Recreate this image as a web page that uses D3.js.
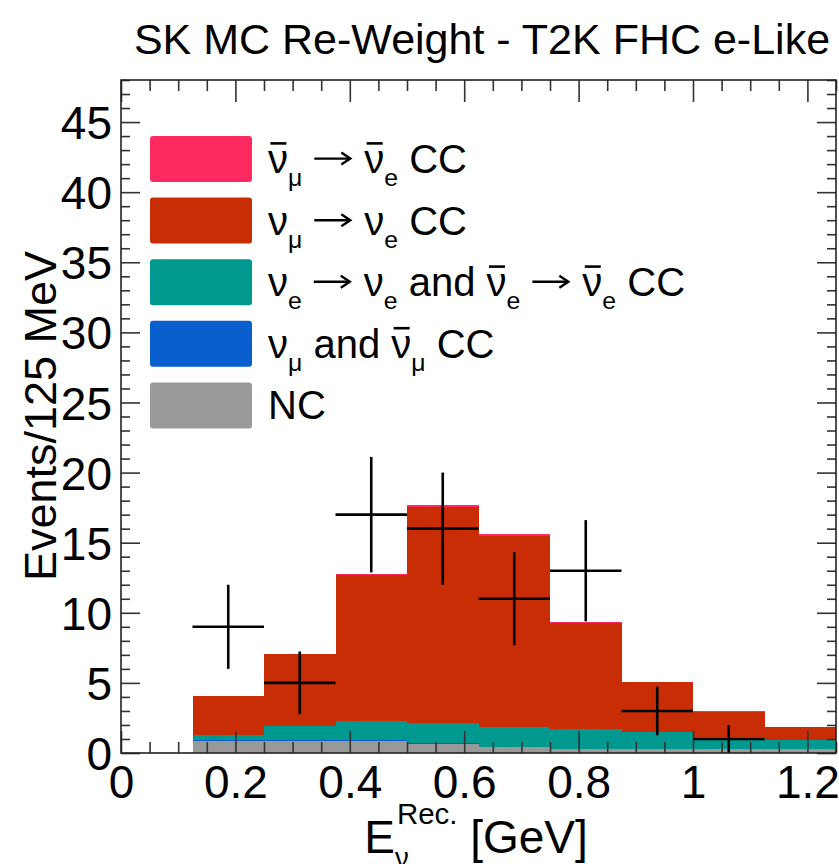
<!DOCTYPE html>
<html><head><meta charset="utf-8">
<script src="https://cdn.jsdelivr.net/npm/d3@7"></script>
<style>body{margin:0;background:#fff}svg{display:block}text{font-family:"Liberation Sans",Arial,Helvetica,sans-serif;fill:#000}</style>
</head><body><svg id="c" width="839" height="864"></svg>
<script>
// ---------- data ----------
const binLow = [0.125, 0.25, 0.375, 0.5, 0.625, 0.75, 0.875, 1.0, 1.125];
const binWidth = 0.125;
const ncVals          = [0.88, 0.86, 0.86, 0.65, 0.40, 0.30, 0.30, 0.28, 0.28];
const numuCCVals      = [0.08, 0.06, 0.05, 0.05, 0.03, 0.02, 0.02, 0.02, 0.02];
const nueCCVals       = [0.34, 0.98, 1.39, 1.46, 1.46, 1.36, 1.20, 0.85, 0.65];
const numuToNueVals   = [2.75, 5.13, 10.40, 15.40, 13.61, 7.62, 3.52, 1.78, 0.92];
const numubToNuebVals = [0.04, 0.06, 0.10, 0.12, 0.10, 0.07, 0.05, 0.03, 0.02];
const dataCounts = [9, 5, 17, 16, 11, 13, 3, 1, 0];
const dataErrors = [3.0, 2.24, 4.12, 4.0, 3.32, 3.61, 1.73, 1.0, 0];
const xTickLabels = ["0", "0.2", "0.4", "0.6", "0.8", "1", "1.2"];
const xTickValues = [0, 0.2, 0.4, 0.6, 0.8, 1.0, 1.2];
const yTickValues = [0, 5, 10, 15, 20, 25, 30, 35, 40, 45];
const seriesKeys = ["nc", "numuCC", "nueCC", "numuToNue", "numubToNueb"];
const seriesColors = {nc:"#999999", numuCC:"#0a5fcf", nueCC:"#00998f", numuToNue:"#c92d05", numubToNueb:"#ff2a60"};

// ---------- layout ----------
const svg = d3.select("#c");
const m = {l:121, r:836, t:80, b:753};
const x = d3.scaleLinear().domain([0, 1.25]).range([m.l, m.r]);
const y = d3.scaleLinear().domain([0, 48]).range([m.b, m.t]);
const FONT = '"Liberation Sans",Arial,Helvetica,sans-serif';

const rows = binLow.map((lo, i) => ({lo, nc:ncVals[i], numuCC:numuCCVals[i], nueCC:nueCCVals[i], numuToNue:numuToNueVals[i], numubToNueb:numubToNuebVals[i]}));
const stacked = d3.stack().keys(seriesKeys)(rows);

svg.append("clipPath").attr("id","pc").append("rect")
  .attr("x", m.l).attr("y", m.t).attr("width", m.r-m.l).attr("height", m.b-m.t);
const plot = svg.append("g").attr("clip-path","url(#pc)");

stacked.forEach(layer => {
  plot.append("g").selectAll("rect").data(layer).join("rect")
    .attr("x", d => x(d.data.lo))
    .attr("width", d => x(d.data.lo + binWidth) - x(d.data.lo))
    .attr("y", d => y(d[1]))
    .attr("height", d => Math.max(0, y(d[0]) - y(d[1])))
    .attr("fill", seriesColors[layer.key])
    .attr("shape-rendering","crispEdges");
});

// ---------- axes / ticks ----------
const tickCol = "#333";
function styleAxis(g){ g.select(".domain").remove(); g.selectAll("line").attr("stroke", tickCol).attr("stroke-width",1.6); g.selectAll("text").attr("font-family",FONT).attr("fill","#000"); }
const yMinor = d3.range(0, 49, 1).filter(v => v % 5 !== 0);
const xMinor = d3.range(0, 1.26, 0.05).map(v => +v.toFixed(2)).filter(v => Math.abs(v*5 - Math.round(v*5)) > 1e-6);

svg.append("g").attr("transform",`translate(${m.l},0)`).call(d3.axisLeft(y).tickValues(yTickValues).tickSizeInner(-19).tickSizeOuter(0).tickPadding(9).tickFormat(d3.format("d"))).call(styleAxis).selectAll("text").attr("font-size",46).attr("dy","0.36em");
svg.append("g").attr("transform",`translate(${m.l},0)`).call(d3.axisLeft(y).tickValues(yMinor).tickSizeInner(-9).tickSizeOuter(0).tickFormat("")).call(styleAxis);
svg.append("g").attr("transform",`translate(${m.r},0)`).call(d3.axisRight(y).tickValues(yTickValues).tickSizeInner(-19).tickSizeOuter(0).tickFormat("")).call(styleAxis);
svg.append("g").attr("transform",`translate(${m.r},0)`).call(d3.axisRight(y).tickValues(yMinor).tickSizeInner(-9).tickSizeOuter(0).tickFormat("")).call(styleAxis);
svg.append("g").attr("transform",`translate(0,${m.b})`).call(d3.axisBottom(x).tickValues(xTickValues).tickSizeInner(-22).tickSizeOuter(0).tickPadding(12).tickFormat((d,i)=>xTickLabels[i])).call(styleAxis).selectAll("text").attr("font-size",46).attr("dy","0.72em");
svg.append("g").attr("transform",`translate(0,${m.b})`).call(d3.axisBottom(x).tickValues(xMinor).tickSizeInner(-11).tickSizeOuter(0).tickFormat("")).call(styleAxis);
svg.append("g").attr("transform",`translate(0,${m.t})`).call(d3.axisTop(x).tickValues(xTickValues).tickSizeInner(-22).tickSizeOuter(0).tickFormat("")).call(styleAxis);
svg.append("g").attr("transform",`translate(0,${m.t})`).call(d3.axisTop(x).tickValues(xMinor).tickSizeInner(-11).tickSizeOuter(0).tickFormat("")).call(styleAxis);

// ---------- data points ----------
const pts = svg.append("g").attr("clip-path","url(#pc)");
binLow.forEach((lo, i) => {
  const n = dataCounts[i];
  if (n <= 0) return;
  const cx = x(lo + binWidth/2);
  pts.append("line").attr("x1", x(lo)).attr("x2", x(lo+binWidth)).attr("y1", y(n)).attr("y2", y(n)).attr("stroke","#000").attr("stroke-width",2.6);
  pts.append("line").attr("x1", cx).attr("x2", cx).attr("y1", y(n+dataErrors[i])).attr("y2", y(Math.max(0,n-dataErrors[i]))).attr("stroke","#000").attr("stroke-width",2.6);
});

// frame
svg.append("rect").attr("x",m.l).attr("y",m.t).attr("width",m.r-m.l).attr("height",m.b-m.t)
  .attr("fill","none").attr("stroke","#222").attr("stroke-width",1.6);

// ---------- rich text helper ----------
function rich(parent, pieces, fs, ax, by, anchor){
  const g = parent.append("g");
  let cx = 0;
  pieces.forEach(p => {
    let w = 0;
    cx += (p.pre || 0);
    if (p.arrow) {
      const ay = -fs*0.36, L = p.arrow;
      g.append("line").attr("x1",cx).attr("x2",cx+L-1).attr("y1",ay).attr("y2",ay).attr("stroke","#000").attr("stroke-width",2.4);
      g.append("path").attr("d",`M${cx+L-9},${ay-6}L${cx+L},${ay}L${cx+L-9},${ay+6}`).attr("fill","none").attr("stroke","#000").attr("stroke-width",2.4).attr("stroke-linejoin","miter");
      w = L;
    } else if (p.t !== undefined) {
      const t = g.append("text").attr("x",cx).attr("y",0).attr("font-size",fs).text(p.t);
      w = t.node().getComputedTextLength();
      if (p.bar) g.append("line").attr("x1",cx+w*0.12).attr("x2",cx+w*0.92).attr("y1",-fs*0.74).attr("y2",-fs*0.74).attr("stroke","#000").attr("stroke-width",fs*0.065);
    }
    let ws = 0;
    if (p.sub) { const t = g.append("text").attr("x",cx+w+(p.subDx||0)).attr("y",fs*(p.subDy||0.33)).attr("font-size",fs*(p.subFs||0.62)).text(p.sub); ws = t.node().getComputedTextLength()+(p.subDx||0); }
    if (p.sup) { const t = g.append("text").attr("x",cx+w+(p.supDx||0)).attr("y",-fs*0.62).attr("font-size",fs*0.64).text(p.sup); ws = Math.max(ws, t.node().getComputedTextLength()+(p.supDx||0)); }
    cx += w + ws + (p.post || 0);
  });
  const off = anchor === "middle" ? -cx/2 : (anchor === "end" ? -cx : 0);
  g.attr("transform", `translate(${ax+off},${by})`);
  return g;
}

// ---------- legend ----------
const S = "\u00a0";
const AR = {arrow:36, pre:12, post:14};
const legendItems = [
  {key:"numubToNueb", pieces:[{t:"ν",bar:1,sub:"μ"},AR,{t:"ν",bar:1,sub:"e"},{t:S+"CC"}]},
  {key:"numuToNue",   pieces:[{t:"ν",sub:"μ"},AR,{t:"ν",sub:"e"},{t:S+"CC"}]},
  {key:"nueCC",       pieces:[{t:"ν",sub:"e"},AR,{t:"ν",sub:"e"},{t:S+"and"+S},{t:"ν",bar:1,sub:"e"},AR,{t:"ν",bar:1,sub:"e"},{t:S+"CC"}]},
  {key:"numuCC",      pieces:[{t:"ν",sub:"μ"},{t:S+"and"+S},{t:"ν",bar:1,sub:"μ"},{t:S+"CC"}]},
  {key:"nc",          pieces:[{t:"NC"}]}
];
const leg = svg.append("g");
legendItems.forEach((it, i) => {
  const y0 = 136 + i*61.6;
  leg.append("rect").attr("x",150).attr("y",y0).attr("width",102).attr("height",46).attr("rx",3)
    .attr("fill",seriesColors[it.key]);
  rich(leg, it.pieces, 40, 268, y0+37, "start");
});

// ---------- titles ----------
svg.append("text").attr("x",482).attr("y",54).attr("text-anchor","middle").attr("font-size",43).text("SK MC Re-Weight - T2K FHC e-Like");
svg.append("text").attr("transform","translate(56,416) rotate(-90)").attr("text-anchor","middle").attr("font-size",45).text("Events/125 MeV");
rich(svg, [{t:"E", sub:"ν", sup:"Rec.", subDy:0.3, subFs:0.6, supDx:2}, {t:S+"[GeV]"}], 46, 476, 853, "middle");
</script></body></html>
